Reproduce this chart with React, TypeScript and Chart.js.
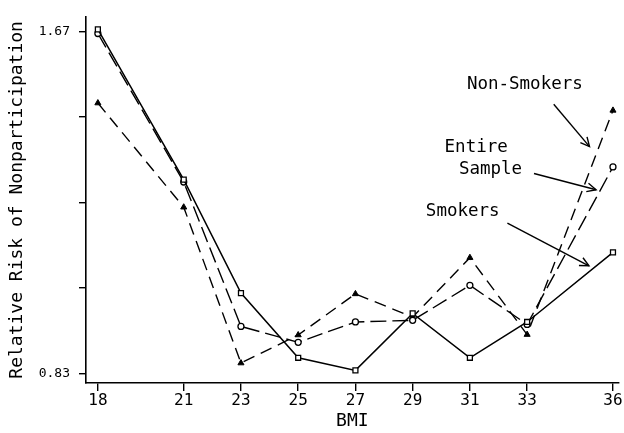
import React, { useEffect, useRef } from 'react';
import { Chart, registerables } from 'chart.js';

Chart.register(...registerables);

// BMI categories (x positions)
const bmi = [18, 21, 23, 25, 27, 29, 31, 33, 36];
// Relative risk of nonparticipation
const smokers = [1.675, 1.306, 1.027, 0.868, 0.837, 0.977, 0.868, 0.956, 1.127];
const entireSample = [1.665, 1.3, 0.945, 0.906, 0.956, 0.96, 1.046, 0.95, 1.337];
const nonSmokers = [1.494, 1.238, 0.855, 0.924, 1.025, 0.968, 1.114, 0.925, 1.476];

const yTicks = [0.83, 1.04, 1.25, 1.46, 1.67];
const yLabeled = ['0.83', '1.67'];
const xTicks = bmi;

const FONT = '"DejaVu Sans Mono", monospace';

// Annotation labels with arrows, placed in data units
const annotations = [
  { lines: ['Non-Smokers'], tx: [32.92], ty: [1.539], from: [33.93, 1.491], to: [35.18, 1.387] },
  { lines: ['Entire', 'Sample'], tx: [31.22, 31.72], ty: [1.384, 1.332], from: [33.24, 1.321], to: [35.41, 1.281] },
  { lines: ['Smokers'], tx: [30.75], ty: [1.227], from: [32.31, 1.199], to: [35.16, 1.094] },
];

const annotationPlugin = {
  id: 'annotArrows',
  afterDraw(chart: any) {
    const { ctx } = chart;
    const xs = chart.scales.x;
    const ys = chart.scales.y;
    ctx.save();
    ctx.fillStyle = '#000';
    ctx.strokeStyle = '#000';
    ctx.lineWidth = 1.4;
    ctx.font = `17.5px ${FONT}`;
    ctx.textAlign = 'center';
    ctx.textBaseline = 'middle';
    for (const a of annotations) {
      a.lines.forEach((t, i) => {
        ctx.fillText(t, xs.getPixelForValue(a.tx[i]), ys.getPixelForValue(a.ty[i]));
      });
      const x1 = xs.getPixelForValue(a.from[0]);
      const y1 = ys.getPixelForValue(a.from[1]);
      const x2 = xs.getPixelForValue(a.to[0]);
      const y2 = ys.getPixelForValue(a.to[1]);
      ctx.beginPath();
      ctx.moveTo(x1, y1);
      ctx.lineTo(x2, y2);
      ctx.stroke();
      const ang = Math.atan2(y2 - y1, x2 - x1);
      const h = 10;
      const spread = 0.45;
      ctx.beginPath();
      ctx.moveTo(x2 - h * Math.cos(ang - spread), y2 - h * Math.sin(ang - spread));
      ctx.lineTo(x2, y2);
      ctx.lineTo(x2 - h * Math.cos(ang + spread), y2 - h * Math.sin(ang + spread));
      ctx.stroke();
    }
    ctx.restore();
  },
};

export default function App() {
  const ref = useRef<HTMLCanvasElement | null>(null);

  useEffect(() => {
    if (!ref.current) return;
    const toPts = (vals: number[]) => bmi.map((b, i) => ({ x: b, y: vals[i] }));
    const chart = new Chart(ref.current, {
      type: 'line',
      data: {
        datasets: [
          {
            label: 'Smokers',
            data: toPts(smokers),
            borderColor: '#000',
            borderWidth: 1.5,
            pointStyle: 'rect',
            pointRadius: 3.5,
            pointBackgroundColor: '#fff',
            pointBorderColor: '#000',
            pointBorderWidth: 1.3,
            tension: 0,
          },
          {
            label: 'Entire Sample',
            data: toPts(entireSample),
            borderColor: '#000',
            borderWidth: 1.4,
            borderDash: [16, 6],
            pointStyle: 'circle',
            pointRadius: 3,
            pointBackgroundColor: '#fff',
            pointBorderColor: '#000',
            pointBorderWidth: 1.3,
            tension: 0,
          },
          {
            label: 'Non-Smokers',
            data: toPts(nonSmokers),
            borderColor: '#000',
            borderWidth: 1.4,
            borderDash: [12, 7],
            pointStyle: 'triangle',
            pointRadius: 3.5,
            pointBackgroundColor: '#000',
            pointBorderColor: '#000',
            pointBorderWidth: 1,
            tension: 0,
          },
        ],
      },
      options: {
        animation: false,
        responsive: false,
        devicePixelRatio: 1,
        layout: { padding: { top: 5, right: 2, left: 0, bottom: 0 } },
        plugins: { legend: { display: false }, tooltip: { enabled: false } },
        scales: {
          x: {
            type: 'linear',
            min: 17.585,
            max: 36.2,
            afterFit: (s: any) => {
              s.height = 50;
            },
            afterBuildTicks: (s: any) => {
              s.ticks = xTicks.map((v) => ({ value: v }));
            },
            ticks: {
              color: '#000',
              font: { family: FONT, size: 16 },
              padding: 0,
              maxRotation: 0,
              autoSkip: false,
              callback: (v: any) => String(v),
            },
            grid: {
              drawOnChartArea: false,
              drawTicks: true,
              tickLength: 8,
              color: '#000',
              lineWidth: 1.4,
            },
            border: { display: true, color: '#000', width: 1.6 },
            title: {
              display: true,
              text: 'BMI',
              color: '#000',
              font: { family: FONT, size: 18 },
              padding: { top: 0, bottom: 1 },
            },
          },
          y: {
            type: 'linear',
            min: 0.806,
            max: 1.706,
            afterFit: (s: any) => {
              s.width = 86;
            },
            afterBuildTicks: (s: any) => {
              s.ticks = yTicks.map((v) => ({ value: v }));
            },
            ticks: {
              color: '#000',
              font: { family: FONT, size: 13 },
              padding: 9,
              autoSkip: false,
              callback: (v: any) => {
                const t = Number(v).toFixed(2);
                return yLabeled.includes(t) ? t : '';
              },
            },
            grid: {
              drawOnChartArea: false,
              drawTicks: true,
              tickLength: 7,
              color: '#000',
              lineWidth: 1.4,
            },
            border: { display: true, color: '#000', width: 1.6 },
            title: {
              display: true,
              text: 'Relative Risk of Nonparticipation',
              color: '#000',
              font: { family: FONT, size: 18 },
              padding: { top: 7, bottom: 0 },
            },
          },
        },
      },
      plugins: [annotationPlugin],
    });
    return () => chart.destroy();
  }, []);

  return (
    <div style={{ position: 'fixed', left: 0, top: 0, width: 624, height: 433, background: '#fff' }}>
      <canvas ref={ref} width={624} height={433} />
    </div>
  );
}
